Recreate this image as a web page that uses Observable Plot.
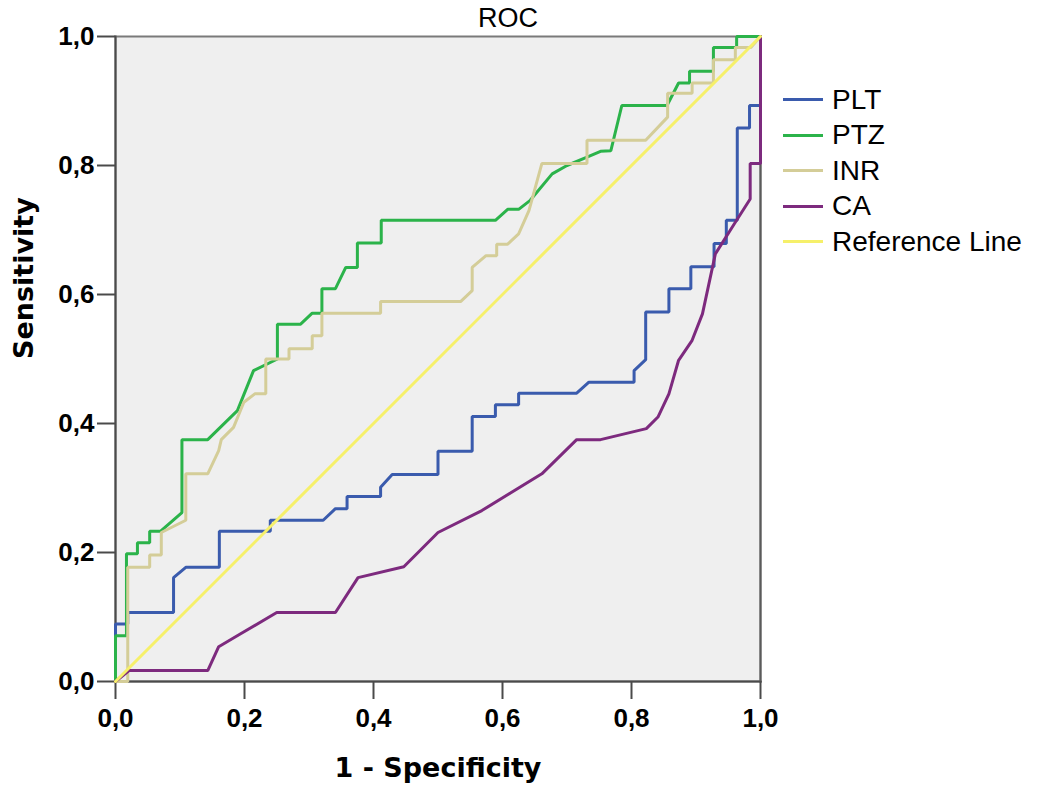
<!DOCTYPE html>
<html>
<head>
<meta charset="utf-8">
<script src="https://cdn.jsdelivr.net/npm/d3@7"></script>
<script src="https://cdn.jsdelivr.net/npm/@observablehq/plot@0.6"></script>
<style>
  html, body { margin: 0; padding: 0; background: white; }
  #wrap { position: relative; width: 1043px; height: 794px; }
  #legend { position: absolute; left: 783px; top: 82px; font-family: "Liberation Sans", Arial, sans-serif; font-size: 28px; color: #000; }
  #legend .row { display: flex; align-items: center; height: 35.5px; }
  #legend .sw { width: 40px; height: 3px; margin-right: 9px; }
</style>
</head>
<body>
<div id="wrap"></div>
<script>
const title = "ROC";
const xLabel = "1 - Specificity";
const yLabel = "Sensitivity";
const xTicks = [0, 0.2, 0.4, 0.6, 0.8, 1.0];
const yTicks = [0, 0.2, 0.4, 0.6, 0.8, 1.0];
const seriesNames = ["PLT", "PTZ", "INR", "CA", "Reference Line"];
const seriesColors = ["#3a5bad", "#2bb34a", "#d4cd98", "#7d2a7e", "#f6f06a"];

// PLT
const pltX = [0, 0, 0.019, 0.019, 0.09, 0.09, 0.109, 0.161, 0.161, 0.24, 0.24, 0.322, 0.341, 0.359, 0.359, 0.411, 0.411, 0.429, 0.5, 0.5, 0.553, 0.553, 0.589, 0.589, 0.625, 0.625, 0.715, 0.734, 0.804, 0.804, 0.822, 0.822, 0.858, 0.858, 0.892, 0.892, 0.928, 0.928, 0.947, 0.947, 0.964, 0.964, 0.983, 0.983, 1, 1];
const pltY = [0, 0.089, 0.089, 0.107, 0.107, 0.161, 0.177, 0.177, 0.233, 0.233, 0.25, 0.25, 0.268, 0.268, 0.287, 0.287, 0.301, 0.321, 0.321, 0.357, 0.357, 0.411, 0.411, 0.429, 0.429, 0.447, 0.447, 0.464, 0.464, 0.482, 0.499, 0.573, 0.573, 0.609, 0.609, 0.643, 0.643, 0.679, 0.679, 0.715, 0.715, 0.858, 0.858, 0.893, 0.893, 1];
// PTZ
const ptzX = [0, 0, 0.017, 0.017, 0.034, 0.034, 0.053, 0.053, 0.07, 0.103, 0.103, 0.143, 0.189, 0.214, 0.251, 0.251, 0.287, 0.305, 0.32, 0.32, 0.341, 0.357, 0.375, 0.375, 0.412, 0.412, 0.589, 0.608, 0.625, 0.643, 0.677, 0.7, 0.731, 0.752, 0.768, 0.785, 0.855, 0.873, 0.89, 0.89, 0.927, 0.927, 0.963, 0.963, 1];
const ptzY = [0, 0.071, 0.071, 0.198, 0.198, 0.215, 0.215, 0.233, 0.233, 0.262, 0.375, 0.375, 0.42, 0.482, 0.5, 0.554, 0.554, 0.571, 0.571, 0.609, 0.609, 0.642, 0.642, 0.68, 0.68, 0.715, 0.715, 0.732, 0.732, 0.746, 0.787, 0.8, 0.813, 0.822, 0.823, 0.893, 0.893, 0.928, 0.928, 0.946, 0.946, 0.983, 0.983, 1, 1];
// INR
const inrX = [0, 0.019, 0.019, 0.053, 0.053, 0.071, 0.071, 0.109, 0.109, 0.143, 0.16, 0.164, 0.183, 0.199, 0.216, 0.233, 0.233, 0.269, 0.269, 0.305, 0.305, 0.32, 0.32, 0.411, 0.411, 0.535, 0.553, 0.553, 0.574, 0.591, 0.591, 0.608, 0.625, 0.641, 0.661, 0.731, 0.731, 0.822, 0.856, 0.856, 0.894, 0.894, 0.927, 0.927, 0.961, 0.961, 0.985, 1];
const inrY = [0, 0, 0.177, 0.177, 0.196, 0.196, 0.231, 0.25, 0.322, 0.322, 0.358, 0.375, 0.394, 0.433, 0.446, 0.446, 0.5, 0.5, 0.516, 0.516, 0.536, 0.536, 0.571, 0.571, 0.589, 0.589, 0.606, 0.642, 0.66, 0.66, 0.678, 0.678, 0.694, 0.73, 0.803, 0.803, 0.839, 0.839, 0.875, 0.912, 0.912, 0.928, 0.928, 0.964, 0.964, 0.983, 0.983, 1];
// CA
const caX = [0, 0.021, 0.143, 0.16, 0.194, 0.25, 0.341, 0.376, 0.447, 0.5, 0.568, 0.661, 0.715, 0.752, 0.823, 0.841, 0.858, 0.873, 0.894, 0.91, 0.93, 0.959, 0.984, 0.984, 1, 1];
const caY = [0, 0.017, 0.017, 0.054, 0.074, 0.107, 0.107, 0.161, 0.178, 0.231, 0.265, 0.322, 0.375, 0.375, 0.392, 0.41, 0.446, 0.498, 0.529, 0.57, 0.663, 0.709, 0.748, 0.803, 0.803, 1];
// Reference line
const refX = [0, 1];
const refY = [0, 1];

const xs = [pltX, ptzX, inrX, caX, refX];
const ys = [pltY, ptzY, inrY, caY, refY];
const rows = [];
seriesNames.forEach((name, s) => {
  xs[s].forEach((x, i) => rows.push({series: name, x, y: ys[s][i]}));
});

const fmt = d => d.toFixed(1).replace(".", ",");

const chart = Plot.plot({
  width: 1043,
  height: 794,
  marginLeft: 115,
  marginRight: 283,
  marginTop: 36,
  marginBottom: 113,
  style: {fontFamily: "'Liberation Sans', Arial, sans-serif", background: "white", color: "black", overflow: "visible"},
  x: {domain: [0, 1], axis: null},
  y: {domain: [0, 1], axis: null},
  color: {domain: seriesNames, range: seriesColors},
  marks: [
    Plot.frame({fill: "#efefef", stroke: "#7a7a7a", strokeWidth: 2}),
    Plot.frame({anchor: "left", stroke: "#4a4a4a", strokeWidth: 2}),
    Plot.frame({anchor: "bottom", stroke: "#4a4a4a", strokeWidth: 2}),
    Plot.frame({anchor: "right", stroke: "#5a5a5a", strokeWidth: 2}),
    Plot.axisX({ticks: xTicks, tickFormat: fmt, tickSize: 18, tickPadding: 9, stroke: "#4a4a4a", strokeWidth: 2, fill: "black", fontSize: 26, fontWeight: "bold", label: null}),
    Plot.axisY({ticks: yTicks, tickFormat: fmt, tickSize: 18, tickPadding: 3, stroke: "#4a4a4a", strokeWidth: 2, fill: "black", fontSize: 26, fontWeight: "bold", label: null}),
    Plot.line(rows, {x: "x", y: "y", z: "series", stroke: "series", strokeWidth: 3, strokeLinejoin: "miter", curve: "linear"}),
    Plot.text([title], {frameAnchor: "top", dx: 70, dy: -18, lineAnchor: "middle", fontSize: 27, fill: "black"}),
    Plot.text([xLabel], {frameAnchor: "bottom", dy: 87, lineAnchor: "middle", fontSize: 27, fontWeight: "bold", fontFamily: "'DejaVu Sans', sans-serif", fill: "black"}),
    Plot.text([yLabel], {frameAnchor: "left", dx: -91, rotate: -90, lineAnchor: "middle", fontSize: 27, fontWeight: "bold", fontFamily: "'DejaVu Sans', sans-serif", fill: "black"})
  ]
});

const wrap = document.getElementById("wrap");
wrap.appendChild(chart);

const legend = document.createElement("div");
legend.id = "legend";
seriesNames.forEach((name, i) => {
  const row = document.createElement("div");
  row.className = "row";
  const sw = document.createElement("span");
  sw.className = "sw";
  sw.style.background = seriesColors[i];
  const label = document.createElement("span");
  label.textContent = name;
  row.appendChild(sw);
  row.appendChild(label);
  legend.appendChild(row);
});
wrap.appendChild(legend);
</script>
</body>
</html>
